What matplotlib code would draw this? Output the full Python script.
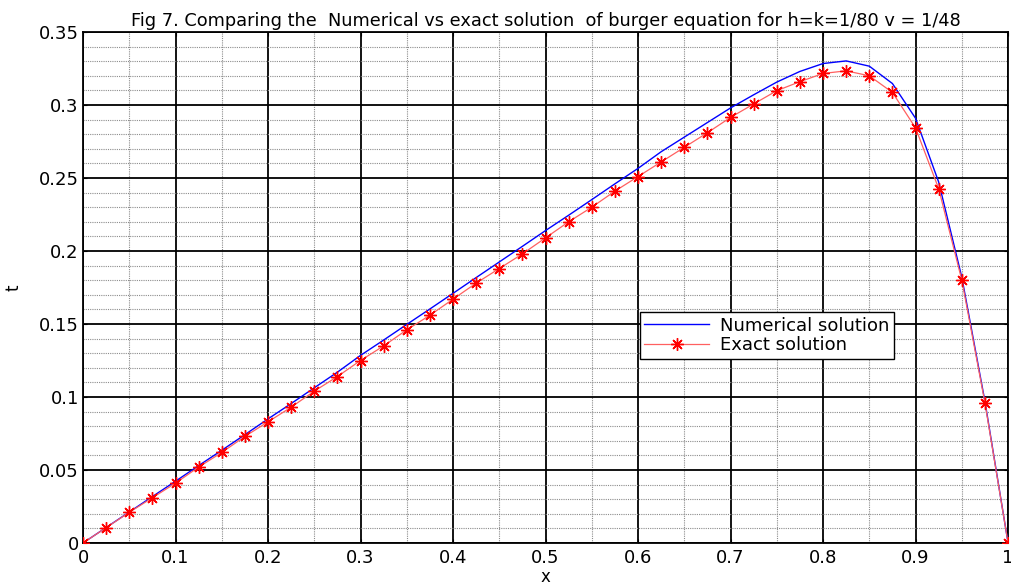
import matplotlib
matplotlib.use("Agg")
import matplotlib.pyplot as plt
import numpy as np
from matplotlib.ticker import MultipleLocator

plt.rcParams['font.family'] = ['DejaVu Sans']

x_values = [0.0, 0.025, 0.05, 0.075, 0.1, 0.125, 0.15, 0.175, 0.2, 0.225,
            0.25, 0.275, 0.3, 0.325, 0.35, 0.375, 0.4, 0.425, 0.45, 0.475,
            0.5, 0.525, 0.55, 0.575, 0.6, 0.625, 0.65, 0.675, 0.7, 0.725,
            0.75, 0.775, 0.8, 0.825, 0.85, 0.875, 0.9, 0.925, 0.95, 0.975, 1.0]

numerical = [0.0, 0.0106, 0.0212, 0.0318, 0.0423, 0.0530, 0.0635, 0.0742, 0.0850, 0.0955,
             0.1063, 0.1170, 0.1285, 0.1390, 0.1497, 0.1603, 0.1710, 0.1818, 0.1925, 0.2032,
             0.2140, 0.2245, 0.2352, 0.2460, 0.2566, 0.2680, 0.2780, 0.2880, 0.2980, 0.3070,
             0.3157, 0.3230, 0.3284, 0.3302, 0.3266, 0.3147, 0.2909, 0.2472, 0.1820, 0.0970, 0.0]

exact = [0.0, 0.0105, 0.021, 0.031, 0.041, 0.052, 0.062, 0.073, 0.083, 0.093,
         0.104, 0.114, 0.125, 0.135, 0.146, 0.156, 0.167, 0.178, 0.188, 0.198,
         0.209, 0.220, 0.230, 0.241, 0.251, 0.261, 0.271, 0.281, 0.2915, 0.3007,
         0.3098, 0.316, 0.3216, 0.3234, 0.320, 0.3086, 0.2843, 0.2427, 0.180, 0.096, 0.0]

x_ticklabels = ['0', '0.1', '0.2', '0.3', '0.4', '0.5', '0.6', '0.7', '0.8', '0.9', '1']
y_ticklabels = ['0', '0.05', '0.1', '0.15', '0.2', '0.25', '0.3', '0.35']

title_text = "Fig 7. Comparing the  Numerical vs exact solution  of burger equation for h=k=1/80 v = 1/48"

fig = plt.figure(figsize=(10.11, 5.84), dpi=100)
ax = fig.add_axes([0.0821, 0.0702, 0.9150, 0.8750])

ax.plot(x_values, numerical, color='blue', lw=1.0, label='Numerical solution', zorder=3)
ax.plot(x_values, exact, color='#ff6060', lw=0.9, marker=(8, 2, 0), markersize=9,
        markerfacecolor='red', markeredgecolor='red', markeredgewidth=1.0,
        label='Exact solution', zorder=4)

ax.set_xlim(0, 1)
ax.set_ylim(0, 0.35)
ax.xaxis.set_minor_locator(MultipleLocator(0.05))
ax.yaxis.set_minor_locator(MultipleLocator(0.01))
ax.set_xticks(np.linspace(0, 1, len(x_ticklabels)))
ax.set_xticklabels(x_ticklabels)
ax.set_yticks(np.linspace(0, 0.35, len(y_ticklabels)))
ax.set_yticklabels(y_ticklabels)

ax.grid(which='major', color='black', lw=1.3, ls='-', zorder=1)
ax.grid(which='minor', color='0.55', lw=0.8, ls=(0, (1, 1)), zorder=1)
ax.set_axisbelow(True)

ax.tick_params(which='major', direction='in', length=3, top=True, right=True,
               labelsize=13)
ax.tick_params(axis='x', which='major', pad=4)
ax.tick_params(axis='y', which='major', pad=3)
ax.tick_params(which='minor', length=0)
for s in ax.spines.values():
    s.set_linewidth(1.3)

ax.set_xlabel('x', fontsize=12, labelpad=1)
ax.set_ylabel('t', fontsize=12, labelpad=12)
ax.set_title(title_text, fontsize=12.8, pad=4)

leg = ax.legend(loc='upper left', bbox_to_anchor=(0.602, 0.452), fontsize=13,
                frameon=True, fancybox=False, edgecolor='black', framealpha=1,
                borderpad=0.25, handlelength=3.6, handletextpad=0.6,
                labelspacing=0.1, borderaxespad=0)
leg.get_frame().set_linewidth(1.0)

fig.savefig('out.png', dpi=100)
